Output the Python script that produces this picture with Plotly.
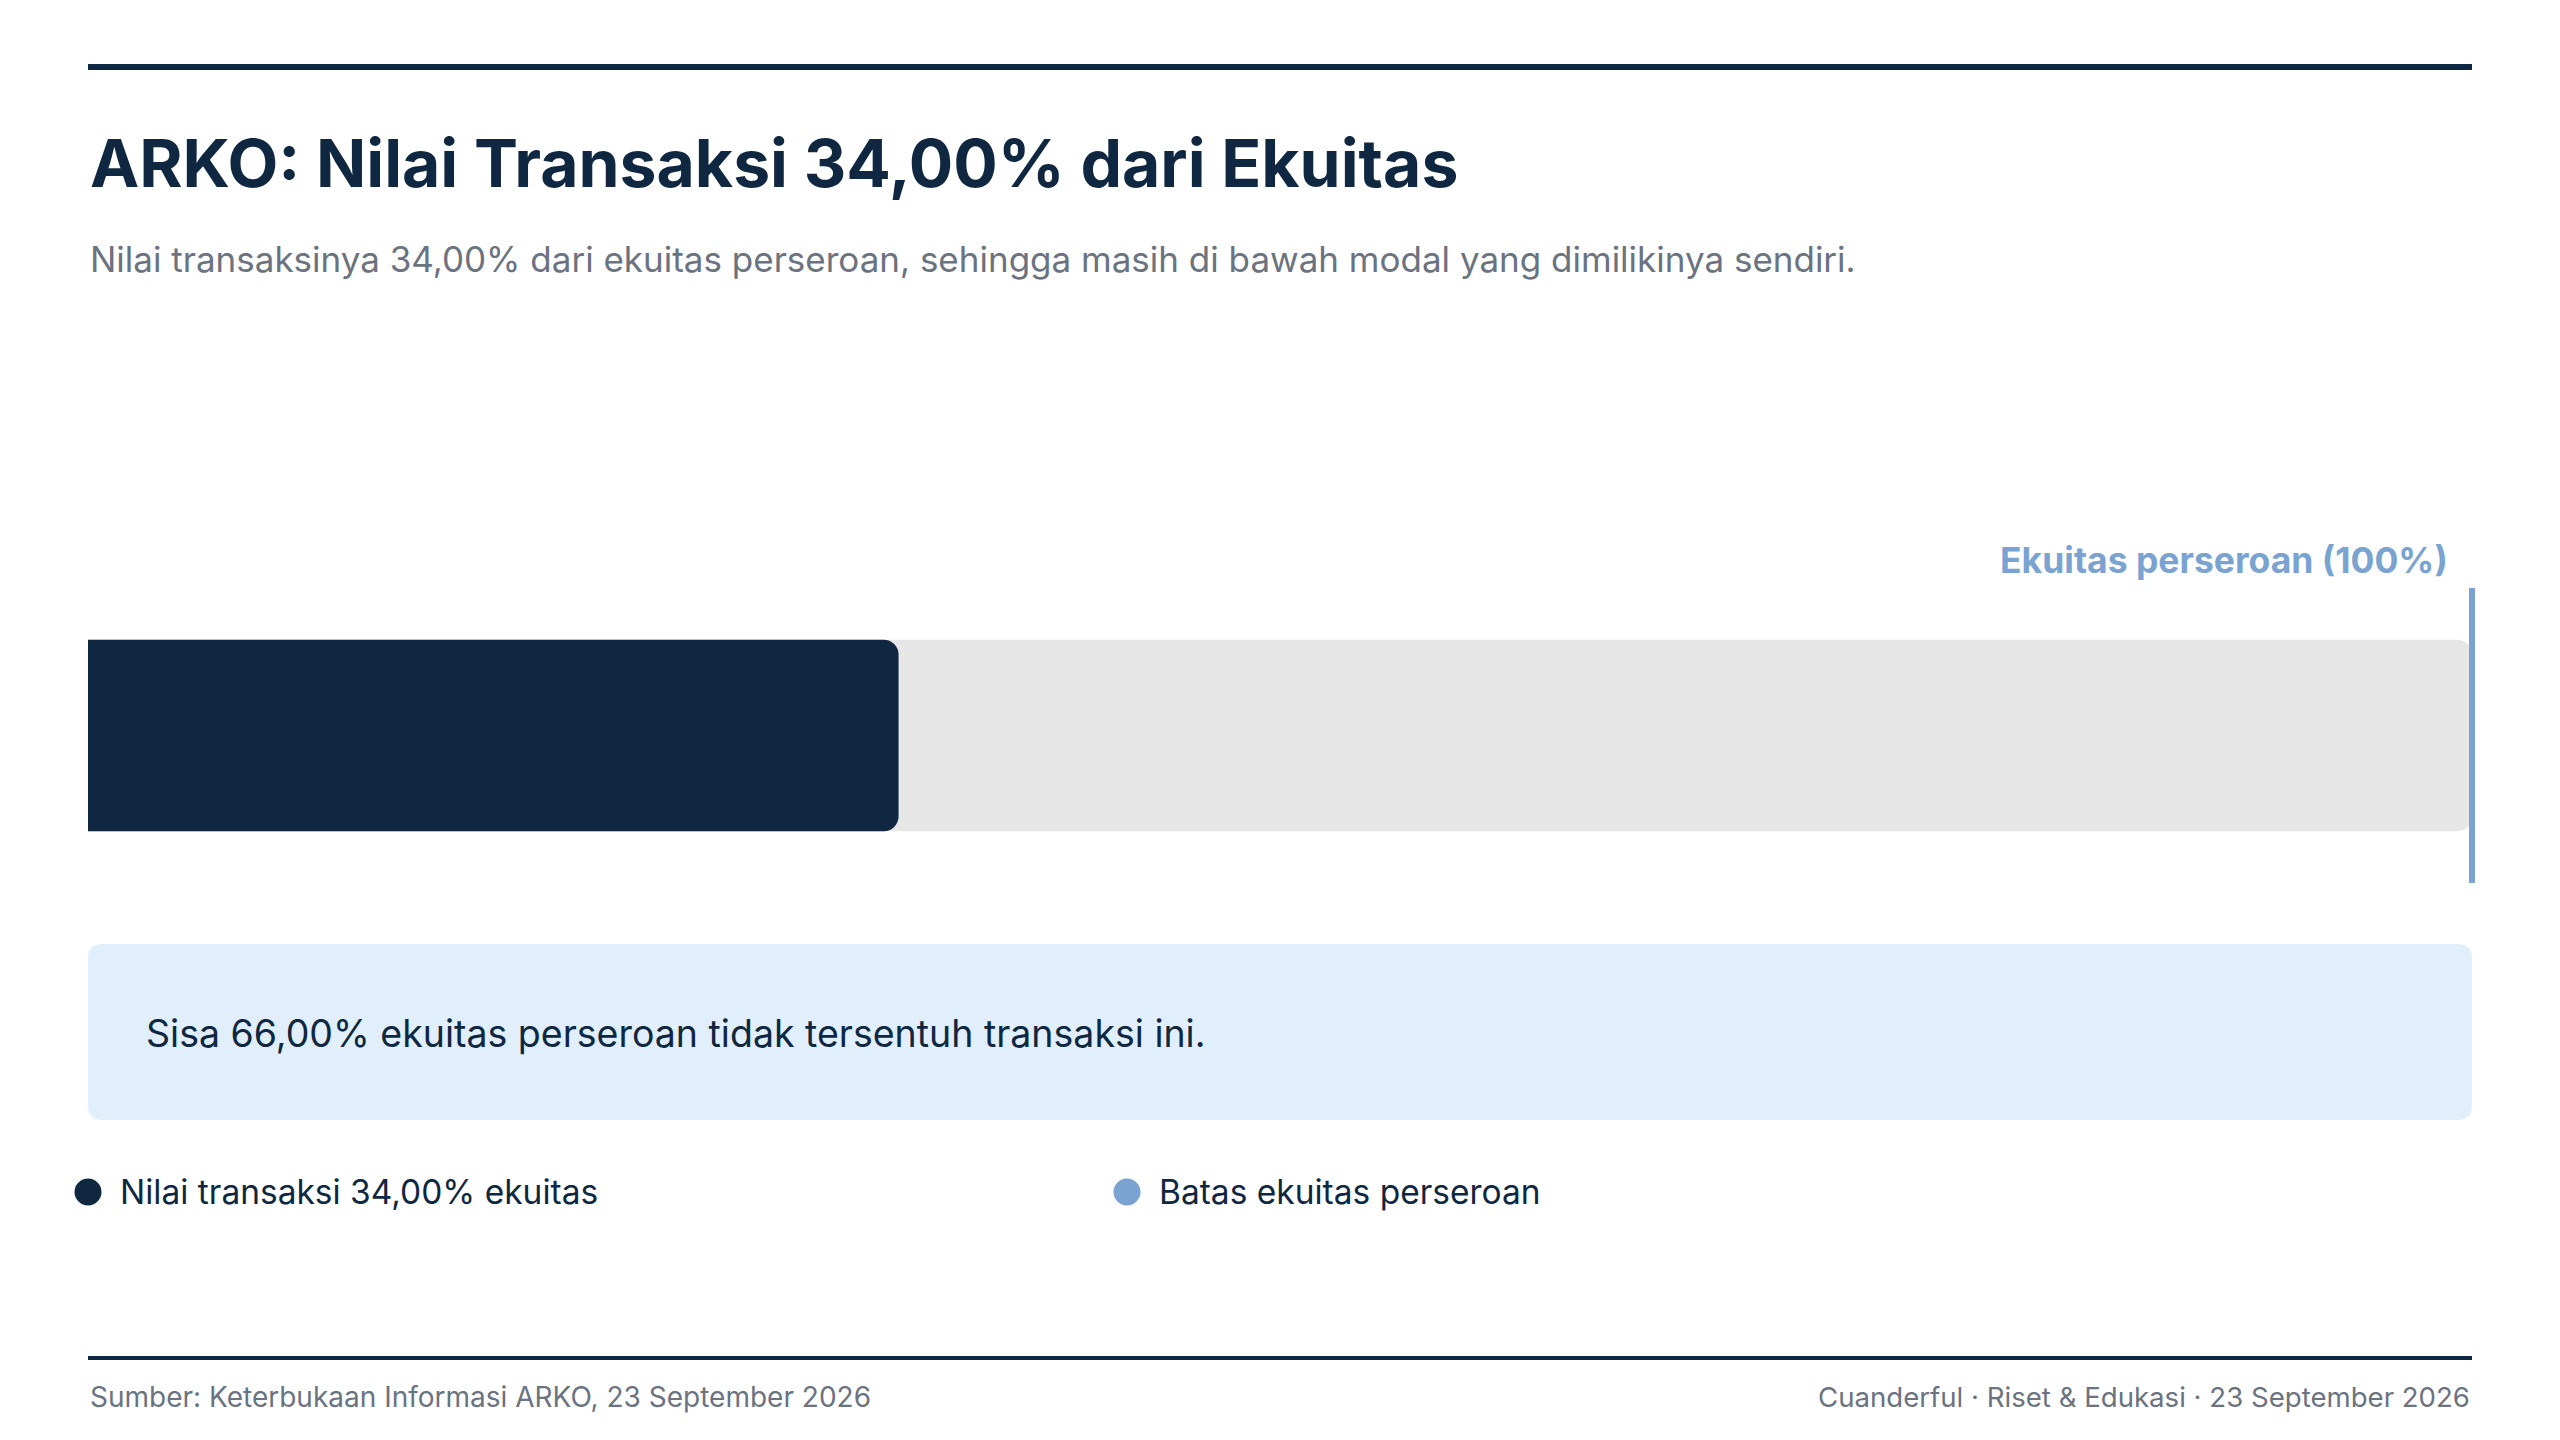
import plotly.graph_objects as go

# data
ticker = "ARKO"
transaction_pct = [34.0]
equity_pct = [100.0]
legend_labels = ["Nilai transaksi 34,00% ekuitas", "Batas ekuitas perseroan"]
legend_slots = [0, 1]

NAVY = "#0f2740"
GREY_BAR = "#e6e6e6"
BLUE = "#7aa3d1"
BOX_BG = "#e1effd"
MUTED = "#6b7280"
FONT = "Inter"

# the page body has an 8px margin, so the figure is drawn 8px in
OFF = 8
W, H = 2560 - OFF, 1440 - OFF
ML, MR = 88 - OFF, 40
PW = W - ML - MR
LEFT, RIGHT = 88, 2472  # content edges on screen


def py(px):
    # screen row -> paper y
    return 1 - (px - OFF) / H


def pxx(px):
    # screen column -> paper x
    return (px - OFF - ML) / PW


fig = go.Figure()

# background bar = whole equity
fig.add_trace(go.Bar(
    x=equity_pct, y=[0.5], orientation="h", width=0.65,
    marker=dict(color=GREY_BAR, line=dict(width=0), cornerradius=15),
    hoverinfo="skip", xaxis="x", yaxis="y",
))
# dark bar = transaction share, on an overlaying axis so it gets its own rounded end
fig.add_trace(go.Bar(
    x=transaction_pct, y=[0.5], orientation="h", width=0.65,
    marker=dict(color=NAVY, line=dict(width=0), cornerradius=15),
    hovertemplate="%{x:.2f}%<extra></extra>", xaxis="x3", yaxis="y",
))

# custom legend drawn on its own little axis strip
fig.add_trace(go.Scatter(
    x=legend_slots, y=[0, 0], mode="markers",
    marker=dict(size=27, color=[NAVY, BLUE]),
    cliponaxis=False, hoverinfo="skip", xaxis="x2", yaxis="y2",
))

# equity limit line at 100%
fig.add_shape(type="line", xref="x", yref="y", x0=equity_pct[0], x1=equity_pct[0],
              y0=0, y1=1, line=dict(color=BLUE, width=6))

# top / bottom rules
fig.add_shape(type="line", xref="paper", yref="paper", x0=pxx(LEFT), x1=pxx(RIGHT),
              y0=py(67), y1=py(67), line=dict(color=NAVY, width=6))
fig.add_shape(type="line", xref="paper", yref="paper", x0=pxx(LEFT), x1=pxx(RIGHT),
              y0=py(1358), y1=py(1358), line=dict(color=NAVY, width=4))

# rounded info box
bx0, bx1 = pxx(LEFT), pxx(RIGHT)
by0, by1 = py(1120), py(944)
rx, ry = 14 / PW, 14 / H
box_path = (
    f"M {bx0 + rx},{by1} L {bx1 - rx},{by1} Q {bx1},{by1} {bx1},{by1 - ry} "
    f"L {bx1},{by0 + ry} Q {bx1},{by0} {bx1 - rx},{by0} "
    f"L {bx0 + rx},{by0} Q {bx0},{by0} {bx0},{by0 + ry} "
    f"L {bx0},{by1 - ry} Q {bx0},{by1} {bx0 + rx},{by1} Z"
)
fig.add_shape(type="path", xref="paper", yref="paper", path=box_path,
              fillcolor=BOX_BG, line=dict(width=0), layer="below")

remaining = equity_pct[0] - transaction_pct[0]


def pct(v):
    return f"{v:.2f}".replace(".", ",") + "%"


annotations = [
    dict(text=f"<b>{ticker}: Nilai Transaksi {pct(transaction_pct[0])} dari Ekuitas</b>",
         x=pxx(LEFT), y=py(163), xref="paper", yref="paper", xanchor="left", yanchor="middle",
         showarrow=False, font=dict(size=66, color=NAVY, family=FONT)),
    dict(text=f"Nilai transaksinya {pct(transaction_pct[0])} dari ekuitas perseroan, "
              "sehingga masih di bawah modal yang dimilikinya sendiri.",
         x=pxx(LEFT), y=py(259), xref="paper", yref="paper", xanchor="left", yanchor="middle",
         showarrow=False, font=dict(size=35, color=MUTED, family=FONT)),
    dict(text=f"<b>Ekuitas perseroan ({equity_pct[0]:.0f}%)</b>",
         x=equity_pct[0], y=py(560), xref="x", yref="paper", xanchor="right", yanchor="middle",
         xshift=-22, showarrow=False, font=dict(size=35.5, color=BLUE, family=FONT)),
    dict(text=f"Sisa {pct(remaining)} ekuitas perseroan tidak tersentuh transaksi ini.",
         x=pxx(144), y=py(1033), xref="paper", yref="paper", xanchor="left", yanchor="middle",
         showarrow=False, font=dict(size=37.5, color=NAVY, family=FONT)),
    dict(text="Sumber: Keterbukaan Informasi ARKO, 23 September 2026",
         x=pxx(LEFT), y=py(1397), xref="paper", yref="paper", xanchor="left", yanchor="middle",
         showarrow=False, font=dict(size=28, color=MUTED, family=FONT)),
    dict(text="Cuanderful · Riset & Edukasi · 23 September 2026",
         x=pxx(RIGHT), y=py(1397), xref="paper", yref="paper", xanchor="right", yanchor="middle",
         showarrow=False, font=dict(size=27.6, color=MUTED, family=FONT)),
]
for slot, label in zip(legend_slots, legend_labels):
    annotations.append(dict(
        text=label, x=slot, y=0, xref="x2", yref="y2", xanchor="left", yanchor="middle",
        xshift=30, showarrow=False, font=dict(size=33.5, color=NAVY, family=FONT),
    ))

x_range = [0, 100 * PW / (RIGHT - LEFT)]

fig.update_layout(
    width=W, height=H,
    margin=dict(l=ML, r=MR, t=0, b=0),
    paper_bgcolor="white", plot_bgcolor="white",
    barmode="overlay",
    showlegend=False,
    font=dict(family=FONT, color=NAVY),
    xaxis=dict(range=x_range, domain=[0, 1], visible=False, fixedrange=True),
    xaxis3=dict(range=x_range, overlaying="x", anchor="y", visible=False, fixedrange=True),
    yaxis=dict(range=[0, 1], domain=[py(883), py(588)], visible=False, fixedrange=True),
    xaxis2=dict(range=[0, PW / (1127 - LEFT)], domain=[0, 1], visible=False, anchor="y2",
                fixedrange=True),
    yaxis2=dict(range=[-1, 1], domain=[py(1215), py(1169)], visible=False, anchor="x2",
                fixedrange=True),
    annotations=annotations,
)

fig.write_html("out.html")
